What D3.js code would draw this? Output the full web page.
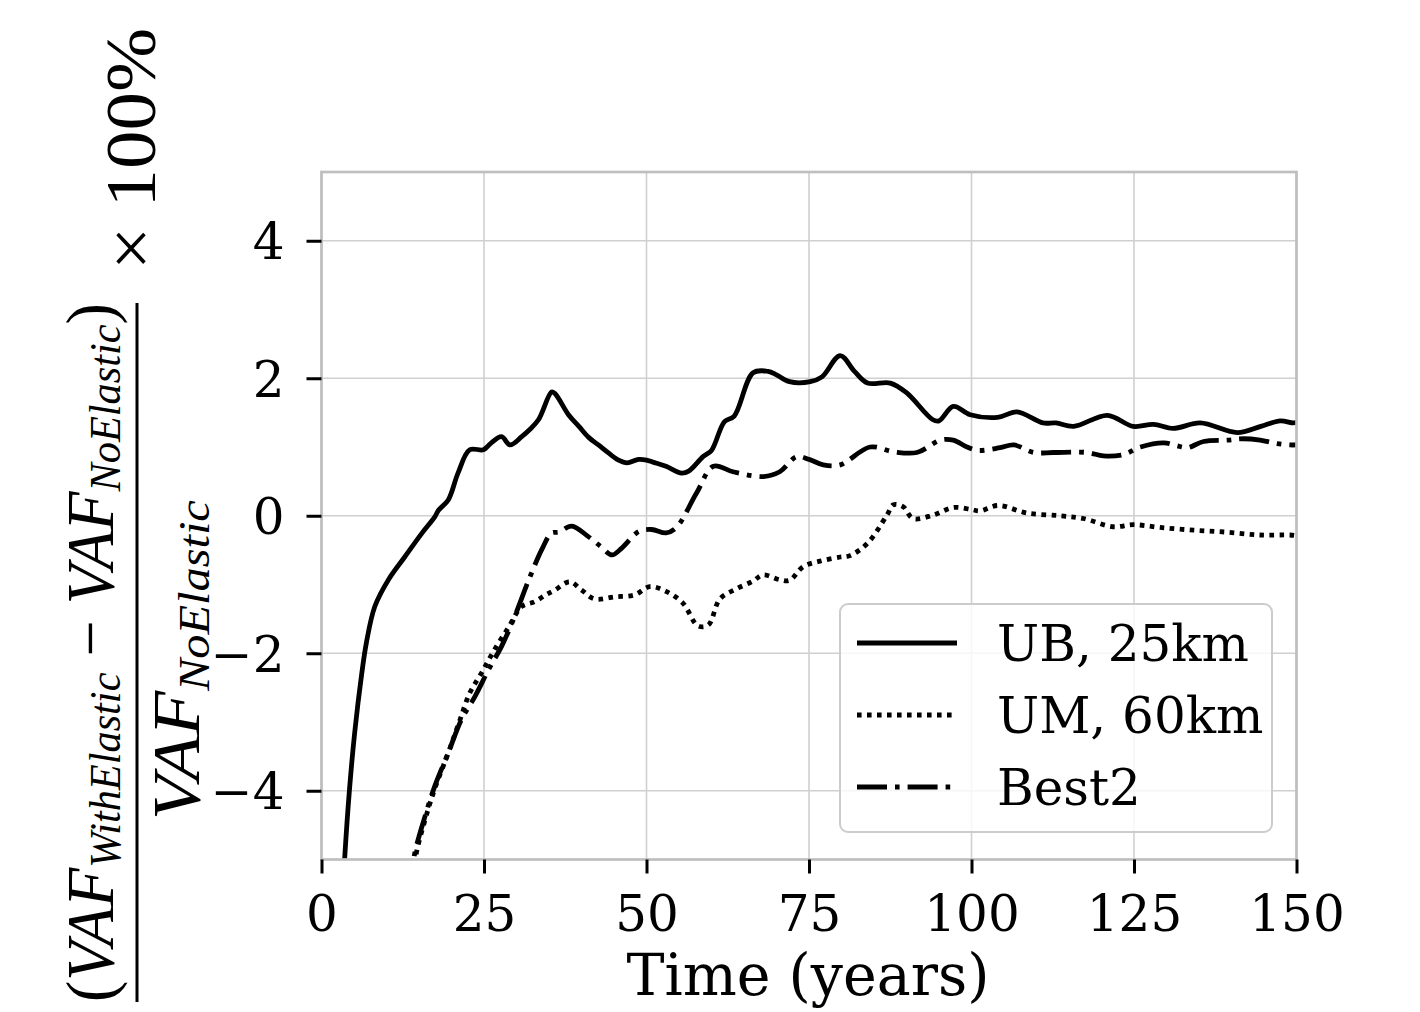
<!DOCTYPE html>
<html><head><meta charset="utf-8">
<script src="https://cdn.jsdelivr.net/npm/d3@7"></script>
<style>html,body{margin:0;padding:0;background:#fff;}svg{display:block;}</style>
</head><body>
<script>
// ---- data ----
const ubT = [3.0,3.6,4.3,5.1,6.2,6.9,8.2,10.3,12.8,15.4,17.4,18.0,19.5,21.0,22.8,24.9,26.0,27.7,29.0,30.8,32.0,33.4,35.4,35.9,38.0,39.6,41.1,42.6,44.2,45.7,47.0,48.8,50.0,51.0,53.0,55.4,56.5,58.7,60.0,62.0,63.5,66.4,68.7,70.0,72.0,75.2,77.0,79.8,82.0,84.0,87.5,90.0,94.0,95.0,97.2,99.8,104.0,107.0,111.0,113.0,115.7,120.9,124.9,128.0,131.0,135.2,140.9,144.5,147.5,149.5,150.0];
const ubV = [-6.0,-4.93,-3.99,-3.16,-2.29,-1.85,-1.32,-0.93,-0.6,-0.26,-0.02,0.08,0.23,0.62,0.96,0.96,1.05,1.15,1.03,1.15,1.25,1.4,1.8,1.78,1.47,1.3,1.14,1.03,0.91,0.81,0.77,0.82,0.81,0.78,0.72,0.62,0.65,0.86,0.95,1.37,1.45,2.08,2.1,2.05,1.95,1.95,2.02,2.33,2.1,1.93,1.93,1.79,1.4,1.38,1.59,1.47,1.43,1.51,1.35,1.35,1.3,1.46,1.3,1.33,1.27,1.35,1.21,1.3,1.38,1.35,1.36];

const umT = [13.8,14.5,16.0,17.5,19.5,21.3,22.8,24.6,26.6,28.8,30.8,32.8,34.5,35.9,38.2,40.0,42.0,45.1,48.2,50.5,53.0,55.6,57.9,59.5,61.3,63.9,66.4,67.9,70.5,72.0,74.1,76.7,79.8,81.3,84.0,87.0,88.0,89.5,91.0,94.1,97.2,100.0,101.3,104.1,108.5,113.7,117.2,121.8,124.9,129.0,134.2,139.4,144.4,149.0,150.0];
const umV = [-5.5,-4.95,-4.4,-3.95,-3.45,-2.97,-2.58,-2.29,-1.95,-1.62,-1.32,-1.25,-1.15,-1.08,-0.96,-1.08,-1.21,-1.18,-1.15,-1.03,-1.1,-1.27,-1.6,-1.59,-1.21,-1.06,-0.95,-0.86,-0.93,-0.94,-0.74,-0.66,-0.6,-0.58,-0.4,0.01,0.16,0.13,-0.04,0.01,0.12,0.09,0.07,0.15,0.04,0.0,-0.04,-0.16,-0.13,-0.17,-0.21,-0.24,-0.28,-0.28,-0.29];

const b2T = [13.5,14.3,15.9,17.4,19.5,21.5,23.6,25.7,27.7,29.7,31.9,33.9,35.4,36.5,38.5,41.0,43.0,44.7,46.2,48.8,50.8,53.0,54.6,57.7,60.3,63.3,68.0,70.5,73.1,75.0,77.2,79.8,84.4,88.0,91.6,95.2,97.2,99.3,101.0,104.4,106.5,109.6,112.6,117.8,120.3,123.4,126.0,129.6,131.5,133.2,135.7,139.4,141.8,144.4,147.0,149.0,150.0];
const b2V = [-5.5,-4.93,-4.38,-3.94,-3.45,-2.97,-2.63,-2.24,-1.9,-1.47,-0.93,-0.49,-0.25,-0.24,-0.15,-0.3,-0.45,-0.57,-0.47,-0.23,-0.2,-0.25,-0.17,0.33,0.72,0.64,0.57,0.64,0.86,0.82,0.74,0.74,1.0,0.93,0.92,1.1,1.1,1.0,0.95,0.99,1.03,0.92,0.92,0.92,0.87,0.89,1.0,1.06,1.02,0.99,1.08,1.1,1.12,1.1,1.05,1.03,1.03];

const seriesNames = ["UB, 25km", "UM, 60km", "Best2"];
const xTicks = [0, 25, 50, 75, 100, 125, 150];
const yTicks = [-4, -2, 0, 2, 4];
const xLabel = "Time (years)";

// ---- layout ----
const W = 1420, H = 1012;
const L = 321.5, R = 1296.5, T = 172, B = 859.5;
const svg = d3.select("body").append("svg").attr("width", W).attr("height", H);
const x = d3.scaleLinear().domain([0, 150]).range([L, R]);
const y = d3.scaleLinear().domain([-5, 5]).range([B, T]);

const gridCol = "#d0d0d0", spineCol = "#bfbfbf";
const tickFont = "'DejaVu Serif', serif";

// grid
const grid = svg.append("g");
grid.selectAll("line.gx").data(xTicks).join("line")
  .attr("x1", d => x(d)).attr("x2", d => x(d)).attr("y1", T).attr("y2", B)
  .attr("stroke", gridCol).attr("stroke-width", 1.6);
grid.selectAll("line.gy").data(yTicks).join("line")
  .attr("y1", d => y(d)).attr("y2", d => y(d)).attr("x1", L).attr("x2", R)
  .attr("stroke", gridCol).attr("stroke-width", 1.6);

// lines
svg.append("clipPath").attr("id", "clip").append("rect")
  .attr("x", L).attr("y", T).attr("width", R - L).attr("height", B - T);
const line = d3.line().x(d => x(d[0])).y(d => y(d[1])).curve(d3.curveCatmullRom.alpha(0.5));
const series = [
  {name: seriesNames[0], data: d3.zip(ubT, ubV), dash: null},
  {name: seriesNames[1], data: d3.zip(umT, umV), dash: "4.6 5.4"},
  {name: seriesNames[2], data: d3.zip(b2T, b2V), dash: "30 8 4.6 8"}
];
const lw = 4.8;
const lg = svg.append("g").attr("clip-path", "url(#clip)");
series.forEach(s => {
  lg.append("path").datum(s.data).attr("d", line)
    .attr("fill", "none").attr("stroke", "#000").attr("stroke-width", lw)
    .attr("stroke-linejoin", "round")
    .attr("stroke-dasharray", s.dash);
});

// spines
svg.append("rect").attr("x", L).attr("y", T).attr("width", R - L).attr("height", B - T)
  .attr("fill", "none").attr("stroke", spineCol).attr("stroke-width", 2.7);

// axes
const xAxis = svg.append("g").attr("transform", `translate(0,${B})`)
  .call(d3.axisBottom(x).tickValues(xTicks).tickSize(14).tickPadding(21.5).tickFormat(d3.format("d")));
const yAxis = svg.append("g").attr("transform", `translate(${L},0)`)
  .call(d3.axisLeft(y).tickValues(yTicks).tickSize(15).tickPadding(22).tickFormat(d3.format("d")));
[xAxis, yAxis].forEach(a => {
  a.select(".domain").remove();
  a.selectAll(".tick line").attr("stroke", "#000").attr("stroke-width", 3);
  a.selectAll(".tick text").attr("fill", "#000").style("font-family", tickFont).style("font-size", "50px");
});
yAxis.selectAll(".tick text").attr("dy", "0.36em");

// x label
svg.append("text").attr("x", 808).attr("y", 995).attr("text-anchor", "middle")
  .style("font-family", tickFont).style("font-size", "57px").text(xLabel);

// legend
const leg = svg.append("g").attr("transform", "translate(840,604)");
leg.append("rect").attr("width", 432).attr("height", 228).attr("rx", 8)
  .attr("fill", "#fff").attr("fill-opacity", 0.8).attr("stroke", "#cccccc").attr("stroke-width", 2);
series.forEach((s, i) => {
  const cy = 39 + i * 72;
  leg.append("line").attr("x1", 17).attr("x2", 117).attr("y1", cy).attr("y2", cy)
    .attr("stroke", "#000").attr("stroke-width", lw).attr("stroke-dasharray", s.dash);
  leg.append("text").attr("x", 157).attr("y", cy + 18)
    .style("font-family", tickFont).style("font-size", "50px").text(s.name);
});

// y label (fraction, rotated)
const ital = "'Liberation Serif', 'DejaVu Serif', serif";
function fracText(parts, baseX, yStart, yEnd, size, subShift) {
  const g = svg.append("g").attr("transform", `translate(${baseX},0) rotate(-90)`);
  const inner = g.append("g");
  const t = inner.append("text").style("font-family", ital).style("font-size", size + "px");
  parts.forEach(p => {
    const ts = t.append("tspan").text(p.t);
    if (p.it) ts.style("font-style", "italic");
    if (p.sub) ts.style("font-size", (size * 0.66) + "px").attr("dy", subShift);
    if (p.up) ts.attr("dy", -subShift);
  });
  const bb = t.node().getBBox();
  const sx = (yStart - yEnd) / bb.width;
  inner.attr("transform", `translate(${-yStart},0) scale(${sx},1) translate(${-bb.x},0)`);
}
fracText([
  {t: "("}, {t: "VAF", it: true}, {t: "WithElastic", it: true, sub: true},
  {t: " − ", up: true}, {t: "VAF", it: true}, {t: "NoElastic", it: true, sub: true},
  {t: ")", up: true}
], 113, 1002, 303, 68, 7);
fracText([{t: "VAF", it: true}, {t: "NoElastic", it: true, sub: true}], 199, 820, 500, 68, 10);
fracText([{t: "× 100%"}], 155, 270, 28, 72, 0);
svg.append("line").attr("x1", 137).attr("x2", 137).attr("y1", 303).attr("y2", 1002)
  .attr("stroke", "#000").attr("stroke-width", 3);
</script>
</body></html>
